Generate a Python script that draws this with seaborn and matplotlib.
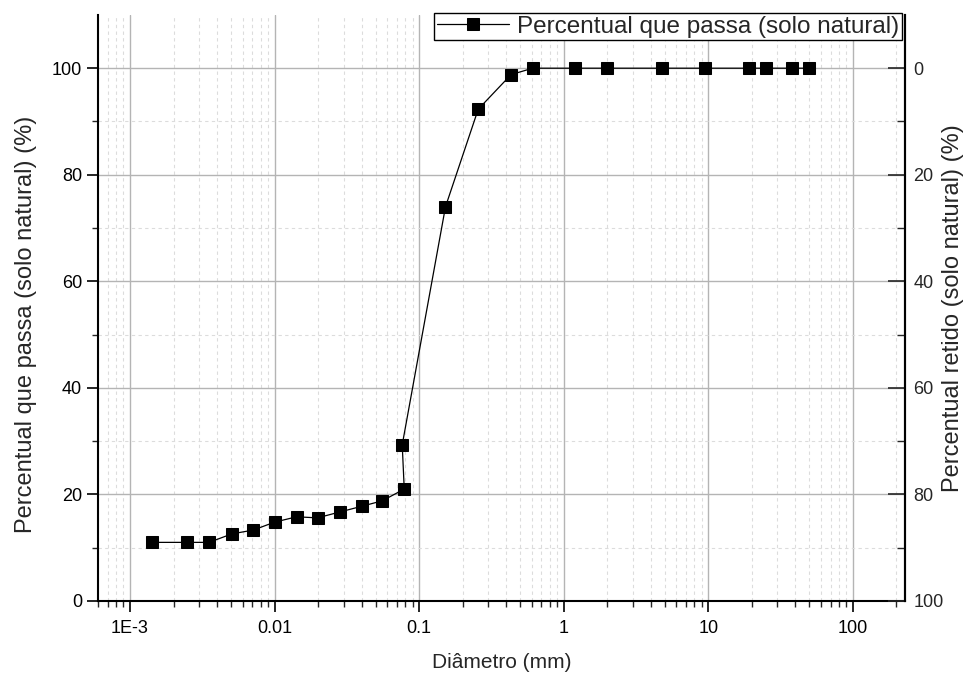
import numpy as np
import pandas as pd
import matplotlib
matplotlib.use("Agg")
import matplotlib.pyplot as plt
import seaborn as sns
from matplotlib.ticker import LogLocator, FixedLocator, NullFormatter

diametro = [0.00142, 0.00248, 0.00352, 0.00507, 0.0071, 0.0100, 0.0142, 0.0198,
            0.0282, 0.0404, 0.0555, 0.0788, 0.0763, 0.152, 0.256, 0.432, 0.61,
            1.2, 2.0, 4.8, 9.5, 19.0, 25.0, 38.0, 50.0]
passa = [11.0, 11.0, 11.0, 12.6, 13.3, 14.8, 15.8, 15.6, 16.7, 17.8, 18.8, 21.0,
         29.3, 74.0, 92.3, 98.8, 100, 100, 100, 100, 100, 100, 100, 100, 100]
serie = "Percentual que passa (solo natural)"
xticks = [1e-3, 0.01, 0.1, 1, 10, 100]
xtick_labels = ["1E-3", "0.01", "0.1", "1", "10", "100"]
yticks = [0, 20, 40, 60, 80, 100]

df = pd.DataFrame({"d": diametro, "p": passa})

sns.set_style("white")
plt.rcParams['font.family'] = ['Liberation Sans', 'DejaVu Sans']

fig = plt.figure(figsize=(9.68, 6.78), dpi=100)
ax = fig.add_axes([0.1012, 0.1136, 0.8337, 0.8644])

sns.lineplot(data=df, x="d", y="p", ax=ax, sort=False, estimator=None,
             color="black", lw=0.9, marker="s", markersize=8.5,
             markeredgecolor="black", markerfacecolor="black", label=serie)

ax.set_xscale("log")
ax.set_xlim(6.0e-4, 229)
ax.set_ylim(0, 110)

ax.set_xticks(xticks)
ax.set_xticklabels(xtick_labels)
ax.xaxis.set_minor_locator(LogLocator(base=10, subs=np.arange(2, 10)))
ax.xaxis.set_minor_formatter(NullFormatter())
ax.set_yticks(yticks)
ax.yaxis.set_minor_locator(FixedLocator([10, 30, 50, 70, 90]))

ax.grid(True, which="major", color="#b4b4b4", lw=1.0, ls="-")
ax.grid(True, which="minor", color="#dcdcdc", lw=0.8, ls=(0, (3, 3)))
ax.set_axisbelow(True)

for s in ["left", "bottom", "right"]:
    ax.spines[s].set_visible(True)
    ax.spines[s].set_color("black")
    ax.spines[s].set_linewidth(1.5)
ax.spines["top"].set_visible(False)

ax.tick_params(axis="both", which="major", direction="out", length=8, width=1.2,
               labelsize=13, colors="black", left=True, bottom=True)
ax.tick_params(axis="both", which="minor", direction="out", length=4, width=1.0,
               left=True, bottom=True)
ax.tick_params(axis="x", which="major", pad=6)

ax.set_xlabel("Diâmetro (mm)", fontsize=15, labelpad=11)
ax.set_ylabel("Percentual que passa (solo natural) (%)", fontsize=17, labelpad=12)
ax.yaxis.set_label_coords(-0.076, 0.472)

ax2 = ax.twinx()
ax2.set_ylim(100, -10)
ax2.set_yticks(yticks)
ax2.yaxis.set_minor_locator(FixedLocator([10, 30, 50, 70, 90]))
ax2.tick_params(axis="y", which="major", direction="in", length=12, width=1.2,
                labelsize=13, right=True, pad=6)
ax2.tick_params(axis="y", which="minor", direction="in", length=6, width=1.0, right=True)
for s in ["left", "bottom", "top"]:
    ax2.spines[s].set_visible(False)
ax2.spines["right"].set_linewidth(1.5)
ax2.spines["right"].set_color("black")
ax2.set_ylabel("Percentual retido (solo natural) (%)", fontsize=17, labelpad=-1)

ax.legend_.remove()
h, l = ax.get_legend_handles_labels()
leg = ax2.legend(h, l, loc="upper right", bbox_to_anchor=(0.996, 1.004), fontsize=17.5,
                 frameon=True, fancybox=False, edgecolor="black", framealpha=1,
                 borderpad=0.12, handlelength=3.0, handletextpad=0.3,
                 borderaxespad=0)
leg.get_frame().set_linewidth(1.0)

fig.savefig("out.png", dpi=100)
